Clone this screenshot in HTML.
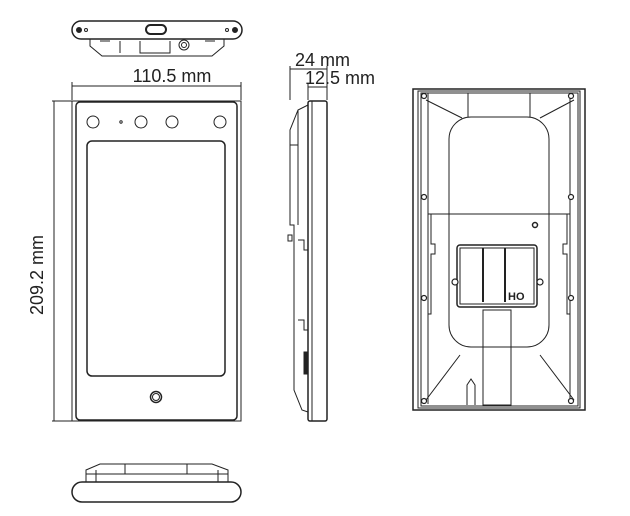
<!DOCTYPE html><html><head><style>body{margin:0;background:#fff}svg{display:block}text{font-family:"Liberation Sans",sans-serif;fill:#222}</style></head><body>
<svg width="630" height="516" viewBox="0 0 630 516" fill="none" stroke="#222" stroke-width="1">
<!-- top view -->
<rect x="72" y="21" width="170" height="18" rx="9" stroke-width="1.5"/>
<circle cx="79" cy="30" r="2.5" fill="#222"/><circle cx="86" cy="30" r="1.5"/>
<circle cx="235" cy="30" r="2.5" fill="#222"/><circle cx="227" cy="30" r="1.5"/>
<rect x="146" y="25" width="20" height="9" rx="4.5" stroke-width="2"/>
<path d="M90 39 L90 46 L102 56 L212 56 L224 46 L224 39"/>
<path d="M100 41h10M205 41h10M140 41v12h30v-12M120 41v12" />
<circle cx="184" cy="45" r="5"/><circle cx="184" cy="45" r="2.5"/>
<!-- dims -->
<line x1="72" y1="86" x2="241" y2="86"/><line x1="72" y1="82" x2="72" y2="100"/><line x1="241" y1="82" x2="241" y2="100"/>
<text x="172" y="82" font-size="18" text-anchor="middle" stroke="none">110.5 mm</text>
<line x1="54" y1="101" x2="54" y2="421"/><line x1="52" y1="101" x2="72" y2="101"/><line x1="52" y1="421" x2="72" y2="421"/>
<text x="0" y="0" font-size="18" text-anchor="middle" stroke="none" transform="translate(43,275) rotate(-90)">209.2 mm</text>
<!-- front -->
<rect x="72" y="101" width="169" height="320"/>
<rect x="76" y="102" width="161" height="318" rx="4" stroke-width="1.5"/>
<rect x="87" y="141" width="138" height="235" rx="5" stroke-width="1.5"/>
<circle cx="93" cy="122" r="6"/><circle cx="141" cy="122" r="6"/><circle cx="172" cy="122" r="6"/><circle cx="220" cy="122" r="6"/><circle cx="121" cy="122" r="1.2"/>
<circle cx="156" cy="397" r="5.5" stroke-width="1.5"/><circle cx="156" cy="397" r="3.5"/>
<!-- side -->
<line x1="290" y1="69" x2="327" y2="69"/><line x1="290" y1="66" x2="290" y2="100"/><line x1="327" y1="66" x2="327" y2="100"/>
<line x1="308" y1="87" x2="327" y2="87"/><line x1="308" y1="84" x2="308" y2="100"/>
<text x="295" y="66" font-size="18" stroke="none">24 mm</text>
<text x="305" y="84" font-size="18" stroke="none">12.5 mm</text>
<rect x="308" y="101" width="19" height="320" rx="2" stroke-width="1.5"/>
<line x1="312" y1="101" x2="312" y2="421"/>
<path d="M308 105 L298 110 L290 130 L290 225 L294 225 L294 390 L302 410 L308 412"/>
<line x1="298" y1="110" x2="298" y2="225"/><line x1="290" y1="145" x2="298" y2="145"/>
<rect x="288" y="235" width="4" height="6"/>
<rect x="304" y="352" width="3" height="22" fill="#222"/>
<path d="M298 240h6v10h4M298 320h6v10h4"/>
<!-- bottom -->
<rect x="72" y="482" width="169" height="20" rx="10" stroke-width="1.5"/>
<path d="M86 482 L86 470 L100 464 L212 464 L228 470 L228 482"/>
<path d="M96 482v-12M218 482v-12M125 464v10M187 464v10M86 474h142"/>
<!-- back -->
<rect x="413" y="89" width="172" height="321" stroke-width="1.5"/>
<rect x="418" y="91" width="162" height="317"/>
<rect x="421" y="93" width="157" height="313"/>
<rect x="449" y="117" width="100" height="230" rx="22"/>
<line x1="428" y1="214" x2="570" y2="214"/>
<path d="M428 93v121M570 93v121M428 214v190M570 214v190"/>
<path d="M426 100L462 118M574 100L540 118M426 400L460 355M574 400L540 355"/>
<path d="M468 93v24M530 93v24"/>
<path d="M431 214v30h4v10h-4v60h-3M567 214v30h-4v10h4v60h3"/>
<rect x="457" y="245" width="80" height="62" rx="3" stroke-width="1.5"/>
<rect x="460" y="248" width="74" height="56"/>
<path d="M483 248v54M505 248v54" stroke-width="2"/>
<text x="508" y="300" font-size="11" stroke="none" font-weight="bold">HO</text>
<rect x="483" y="310" width="28" height="95"/>
<path d="M467 405v-20l4-6 4 6v20"/>
<circle cx="535" cy="225" r="2.5" stroke-width="1.5"/>
<g fill="#fff" stroke-width="1.2">
<circle cx="424" cy="96" r="2.5"/><circle cx="571" cy="96" r="2.5"/><circle cx="424" cy="197" r="2.5"/><circle cx="571" cy="197" r="2.5"/>
<circle cx="424" cy="298" r="2.5"/><circle cx="571" cy="298" r="2.5"/><circle cx="424" cy="401" r="2.5"/><circle cx="571" cy="401" r="2.5"/>
<circle cx="455" cy="282" r="3"/><circle cx="540" cy="282" r="3"/></g>
</svg></body></html>
